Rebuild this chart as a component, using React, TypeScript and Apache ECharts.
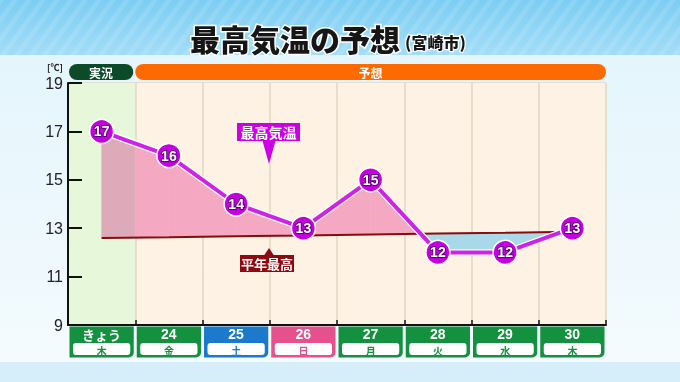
import React, { useEffect, useRef } from 'react';
import * as echarts from 'echarts';

// ---- data ----
const categories = ['きょう', '24', '25', '26', '27', '28', '29', '30'];
const weekdays = ['木', '金', '土', '日', '月', '火', '水', '木'];
const highTemps = [17, 16, 14, 13, 15, 12, 12, 13];
const normalHighs = [12.6, 12.63, 12.67, 12.7, 12.74, 12.78, 12.81, 12.85];
const headerLabels = ['実況', '予想'];
const headerRanges = [[0, 0], [1, 7]];
const Y_MIN = 9;
const Y_MAX = 19;
const Y_INTERVAL = 2;
const OBS_COUNT = 1;

// ---- styles ----
const GREEN = '#14913f';
const BLUE = '#1b7acb';
const PINK = '#e6508c';
const dayColors = [GREEN, GREEN, BLUE, PINK, GREEN, GREEN, GREEN, GREEN];
const FONT = '"Noto Sans CJK JP", "Noto Sans", sans-serif';
const NUMFONT = '"Liberation Sans", "DejaVu Sans", sans-serif';

export default function App() {
  const ref = useRef<HTMLDivElement>(null);

  useEffect(() => {
    const chart = echarts.init(ref.current!, null, { renderer: 'svg' });

    const segData = highTemps.slice(0, -1).map((v, i) => [i, v, normalHighs[i], highTemps[i + 1], normalHighs[i + 1]]);

    const stripes: any[] = [];
    for (let k = -6; k < 60; k++) {
      const x = k * 14;
      stripes.push({
        type: 'polygon',
        z: -9,
        shape: { points: [[x, 55], [x + 6, 55], [x + 46, 0], [x + 40, 0]] },
        style: { fill: 'rgba(255,255,255,0.12)' },
        silent: true,
      });
    }

    const option: any = {
      animation: false,
      grid: { left: 68, right: 74, top: 83, bottom: 57 },
      xAxis: {
        type: 'category',
        data: categories,
        boundaryGap: true,
        axisLine: { show: true, lineStyle: { color: '#111', width: 2 } },
        axisTick: { show: true, inside: true, length: 5, lineStyle: { color: '#111', width: 1.5 } },
        axisLabel: { show: false },
        splitLine: { show: true, lineStyle: { color: '#e2d6c4', width: 1.5 } },
        splitArea: {
          show: true,
          areaStyle: { color: ['#e6f8d9', '#fdf2e3', '#fdf2e3', '#fdf2e3', '#fdf2e3', '#fdf2e3', '#fdf2e3', '#fdf2e3'] },
        },
      },
      yAxis: {
        type: 'value',
        min: Y_MIN,
        max: Y_MAX,
        interval: Y_INTERVAL,
        axisLine: { show: true, lineStyle: { color: '#111', width: 2 } },
        axisTick: { show: true, inside: true, length: 14, lineStyle: { color: '#111', width: 2 } },
        axisLabel: { color: '#222', fontSize: 16, fontFamily: NUMFONT, margin: 5 },
        splitLine: { show: true, lineStyle: { color: '#e2d6c4', width: 1.5 } },
      },
      graphic: [
        { type: 'rect', z: -10, silent: true, shape: { x: 0, y: 0, width: 680, height: 55 },
          style: { fill: new echarts.graphic.LinearGradient(0, 0, 0, 1, [{ offset: 0, color: '#7ccdf3' }, { offset: 1, color: '#a2ddf7' }]) } },
        ...stripes,
        { type: 'rect', z: -10, silent: true, shape: { x: 0, y: 55, width: 680, height: 307 },
          style: { fill: new echarts.graphic.LinearGradient(0, 0, 0, 1, [{ offset: 0, color: '#e4f5fc' }, { offset: 1, color: '#f4fbfe' }]) } },
        { type: 'rect', z: -10, silent: true, shape: { x: 0, y: 362, width: 680, height: 20 }, style: { fill: '#d6eefa' } },
        { type: 'text', z: 50, style: { text: '最高気温の予想', x: 190, y: 38, align: 'left', verticalAlign: 'middle',
          fill: '#161616', font: `900 30px ${FONT}`, stroke: '#ffffff', lineWidth: 3,
          shadowColor: 'rgba(0,0,0,0.35)', shadowBlur: 2, shadowOffsetX: 1, shadowOffsetY: 2 } },
        { type: 'text', z: 50, style: { text: '(宮崎市)', x: 405, y: 42, align: 'left', verticalAlign: 'middle',
          fill: '#161616', font: `900 16px ${FONT}`, stroke: '#ffffff', lineWidth: 2.5 } },
        { type: 'text', z: 50, style: { text: '[℃]', x: 55, y: 67, align: 'center', verticalAlign: 'middle',
          fill: '#222', font: `bold 9px ${FONT}` } },
        // callouts
        { type: 'polygon', z: 60, shape: { points: [[262, 139], [276, 139], [269, 164]] }, style: { fill: '#cc00e6' } },
        { type: 'rect', z: 60, shape: { x: 237, y: 123, width: 63, height: 18 }, style: { fill: '#cc00e6' } },
        { type: 'text', z: 61, style: { text: '最高気温', x: 268.5, y: 132, align: 'center', verticalAlign: 'middle', fill: '#fff', font: `bold 14px ${FONT}` } },
        { type: 'polygon', z: 60, shape: { points: [[263, 257], [275, 257], [269, 248]] }, style: { fill: '#8c0a10' } },
        { type: 'rect', z: 60, shape: { x: 240, y: 255, width: 54, height: 17 }, style: { fill: '#8c0a10' } },
        { type: 'text', z: 61, style: { text: '平年最高', x: 267, y: 263.5, align: 'center', verticalAlign: 'middle', fill: '#fff', font: `bold 13px ${FONT}` } },
      ],
      series: [
        {
          type: 'custom',
          name: 'fill',
          z: 2,
          clip: false,
          silent: true,
          data: segData,
          encode: { x: 0, y: 1 },
          renderItem: (params: any, api: any) => {
            const i = api.value(0) as number;
            const v0 = api.value(1) as number, n0 = api.value(2) as number;
            const v1 = api.value(3) as number, n1 = api.value(4) as number;
            const a = api.coord([i, v0]), an = api.coord([i, n0]);
            const b = api.coord([i + 1, v1]), bn = api.coord([i + 1, n1]);
            const d0 = v0 - n0, d1 = v1 - n1;
            const ts = [0, 1];
            if (d0 * d1 < 0) ts.push(d0 / (d0 - d1));
            if (i === OBS_COUNT - 1) ts.push(0.5);
            ts.sort((p, q) => p - q);
            const lerp = (p: number[], q: number[], t: number) => [p[0] + (q[0] - p[0]) * t, p[1] + (q[1] - p[1]) * t];
            const children: any[] = [];
            for (let k = 0; k < ts.length - 1; k++) {
              const ta = ts[k], tb = ts[k + 1];
              if (tb - ta < 1e-6) continue;
              const tm = (ta + tb) / 2;
              const dm = d0 + (d1 - d0) * tm;
              const obs = i + tm < OBS_COUNT - 0.5;
              const color = dm >= 0 ? (obs ? '#dcaab9' : '#f4a8c1') : '#a9d8e8';
              children.push({
                type: 'polygon',
                shape: { points: [lerp(a, b, ta), lerp(a, b, tb), lerp(an, bn, tb), lerp(an, bn, ta)] },
                style: { fill: color, stroke: color, lineWidth: 0.5 },
              });
            }
            return { type: 'group', children };
          },
        },
        {
          type: 'line',
          name: '平年最高',
          data: normalHighs,
          symbol: 'none',
          silent: true,
          z: 3,
          lineStyle: { color: '#8a0b0b', width: 2 },
        },
        {
          type: 'line',
          name: 'outline',
          data: highTemps,
          symbol: 'none',
          silent: true,
          z: 4,
          lineStyle: { color: '#ffffff', width: 6.5 },
        },
        {
          type: 'line',
          name: '最高気温',
          data: highTemps,
          symbol: 'circle',
          symbolSize: 24,
          silent: true,
          z: 5,
          lineStyle: { color: '#cf22e8', width: 4 },
          itemStyle: { color: '#c400e0', borderColor: '#ffffff', borderWidth: 1.5 },
          label: {
            show: true,
            position: 'inside',
            color: '#fff',
            fontSize: 14,
            fontWeight: 'bold',
            fontFamily: NUMFONT,
            textBorderColor: '#5e0078',
            textBorderWidth: 2,
          },
        },
        {
          type: 'custom',
          name: 'dates',
          z: 6,
          clip: false,
          silent: true,
          data: categories.map((_, i) => [i, Y_MIN]),
          encode: { x: 0, y: 1 },
          renderItem: (params: any, api: any) => {
            const i = api.value(0) as number;
            const c = api.coord([i, Y_MIN]);
            const w = api.size([1, 0])[0];
            const left = c[0] - w / 2;
            const col = dayColors[i];
            return {
              type: 'group',
              children: [
                { type: 'rect', shape: { x: left + 1.5, y: c[1] + 1.5, width: w - 3, height: 31, r: [0, 0, 5, 0] }, style: { fill: col } },
                { type: 'rect', shape: { x: left + 5, y: c[1] + 18, width: w - 10, height: 12, r: 3 }, style: { fill: '#ffffff' } },
                { type: 'text', style: { text: categories[i], x: c[0], y: c[1] + 9, align: 'center', verticalAlign: 'middle', fill: '#fff', font: i === 0 ? `bold 13px ${FONT}` : `bold 14px ${NUMFONT}` } },
                { type: 'text', style: { text: weekdays[i], x: c[0], y: c[1] + 25, align: 'center', verticalAlign: 'middle', fill: col, font: `bold 10px ${FONT}` } },
              ],
            };
          },
        },
        {
          type: 'custom',
          name: 'header',
          z: 6,
          clip: false,
          silent: true,
          data: headerRanges.map((r) => [r[0], r[1]]),
          encode: { x: 0 },
          renderItem: (params: any, api: any) => {
            const idx = params.dataIndex;
            const s = api.value(0) as number;
            const e = api.value(1) as number;
            const w = api.size([1, 0])[0];
            const cs = api.coord([s, Y_MAX]);
            const ce = api.coord([e, Y_MAX]);
            const x0 = cs[0] - w / 2 + (idx === 0 ? 1 : 0);
            const x1 = ce[0] + w / 2 - (idx === 0 ? 2 : 0);
            const top = cs[1] - 19;
            return {
              type: 'group',
              children: [
                { type: 'rect', shape: { x: x0, y: top, width: x1 - x0, height: 16, r: 8 }, style: { fill: idx === 0 ? '#0c4a2a' : '#ff6a00' } },
                { type: 'text', style: { text: headerLabels[idx], x: (x0 + x1) / 2, y: top + 8.5, align: 'center', verticalAlign: 'middle', fill: '#fff', font: `bold 12px ${FONT}` } },
              ],
            };
          },
        },
      ],
    };

    chart.setOption(option);
    return () => chart.dispose();
  }, []);

  return <div ref={ref} style={{ position: 'fixed', left: 0, top: 0, width: 680, height: 382 }} />;
}
